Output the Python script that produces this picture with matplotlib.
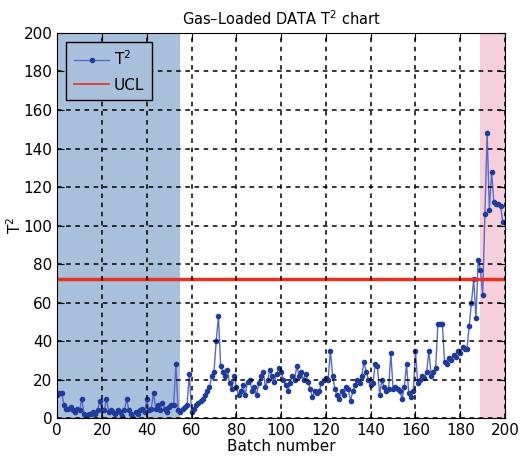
import numpy as np
import matplotlib
matplotlib.use('Agg')
import matplotlib.pyplot as plt

# T^2 values per batch
t2 = [12, 13, 13, 7, 5, 5, 6, 4, 3, 5,
      4, 10, 2, 1, 2, 2, 3, 2, 4, 9,
      4, 4, 10, 3, 4, 3, 2, 4, 3, 1,
      4, 10, 4, 2, 0, 3, 2, 4, 5, 3,
      10, 4, 5, 13, 5, 7, 4, 8, 5, 3,
      6, 7, 7, 28, 4, 3, 5, 6, 7, 23,
      3, 5, 7, 8, 9, 10, 12, 14, 16, 22,
      24, 40, 53, 27, 24, 22, 25, 18, 15, 22,
      16, 12, 14, 17, 12, 19, 20, 14, 16, 12,
      18, 22, 24, 16, 20, 25, 22, 19, 23, 26,
      24, 20, 17, 14, 18, 22, 20, 27, 22, 24,
      20, 23, 19, 15, 11, 14, 13, 14, 18, 20,
      21, 20, 35, 22, 15, 12, 10, 14, 12, 16,
      15, 9, 14, 17, 20, 18, 22, 29, 24, 20,
      17, 18, 28, 27, 12, 20, 16, 14, 15, 34,
      15, 16, 15, 14, 10, 16, 28, 13, 11, 14,
      35, 18, 20, 22, 21, 24, 35, 22, 24, 26,
      49, 49, 49, 29, 28, 31, 30, 33, 32, 35,
      34, 37, 36, 36, 48, 60, 72, 52, 82, 77,
      64, 106, 148, 108, 128, 112, 111, 111, 110, 102]
batch = np.arange(len(t2))

ucl = 72
normal_range = (0, 55)     # 파란 영역
fault_range = (188.8, 200)  # 분홍 영역
blue = '#a9c0dc'

fig = plt.figure(figsize=(5.25, 4.58), dpi=100)
ax = fig.add_axes([0.109, 0.087, 0.853, 0.841])

ax.axvspan(normal_range[0], normal_range[1], color=blue, lw=0)
ax.axvspan(fault_range[0], fault_range[1], color='#f5d0dc', lw=0)

ax.plot(batch, t2, '-', color='#5868c8', lw=1.0, marker='o', ms=3,
        mfc='#1f3c9c', mec='#1f3c9c', label='T$^2$')
ax.axhline(ucl, color='#e8321e', lw=2.5, label='UCL')

ax.set_xlim(0, 200)
ax.set_ylim(0, 200)
ax.set_xticks(np.arange(0, 201, 20))
ax.set_yticks(np.arange(0, 201, 20))
ax.grid(True, color='black', linestyle=(0, (3, 3)), lw=1.1)
ax.set_axisbelow(False)
ax.tick_params(direction='in', top=True, right=True, labelsize=11, length=5)

ax.set_title('Gas\u2013Loaded DATA T$^2$ chart', fontsize=10.5)
ax.set_xlabel('Batch number', fontsize=11, labelpad=1)
ax.set_ylabel('T$^2$', fontsize=11)
ax.yaxis.set_label_coords(-0.075, 0.5)

leg = ax.legend(loc='upper left', fontsize=11, handlelength=2.3, numpoints=1,
                handletextpad=0.3, fancybox=False, borderaxespad=0.6,
                labelspacing=0.6, borderpad=0.5)
leg.get_frame().set_facecolor(blue)
leg.get_frame().set_alpha(1)
leg.get_frame().set_edgecolor('black')
leg.get_frame().set_linewidth(1.0)
leg.get_lines()[1].set_linewidth(1.2)
leg.set_zorder(5)

fig.savefig('out.png', dpi=100)
